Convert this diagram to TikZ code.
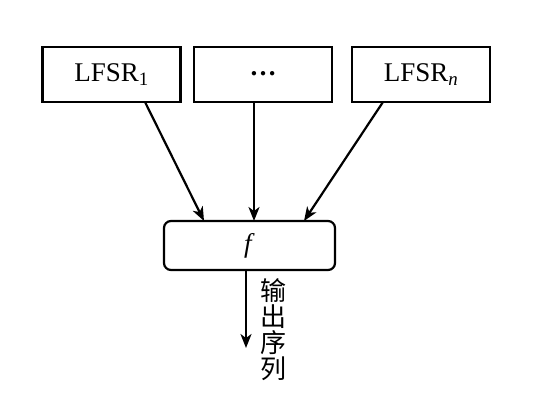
\documentclass[tikz,border=0pt]{standalone}
\usepackage{fontspec}
\setmainfont{Liberation Serif}
\newfontfamily\cjk{Noto Sans CJK SC}
\usetikzlibrary{arrows.meta}
\begin{document}
\begin{tikzpicture}[x=1pt,y=-1pt,
  box/.style={draw,line width=2.2pt,minimum width=138pt,minimum height=55pt,inner sep=0pt,font=\fontsize{27}{30}\selectfont},
  fbox/.style={draw,line width=2.2pt,rounded corners=7pt,minimum width=171pt,minimum height=49pt,inner sep=0pt,font=\fontsize{27}{30}\selectfont},
  arr/.style={line width=2.2pt,-{Stealth[length=14pt,width=11pt,inset=4pt]}}]
\useasboundingbox (0,0) rectangle (536,415);
\node[box] (l1) at (111.5,74.5) {LFSR\textsubscript{1}};
\node[box] (dots) at (263,74.5) {\textbf{\raisebox{2pt}{…}}};
\node[box] (ln) at (421,74.5) {LFSR\textsubscript{\textit{n}}};
\node[fbox] (f) at (249.5,245.5) {\textit{f}};
\coordinate (o) at (246,348);
\draw[arr] (145,102) -- (204,221);
\draw[arr] (dots.south -| 254,0) -- (254,221);
\draw[arr] (383,102) -- (304,221);
\draw[arr] (f.south -| o) -- (o);
\node[font=\cjk\fontsize{26}{26}\selectfont,align=center,anchor=north,inner sep=0pt] (t) at (273,278) {输\\出\\序\\列};
\end{tikzpicture}
\end{document}
